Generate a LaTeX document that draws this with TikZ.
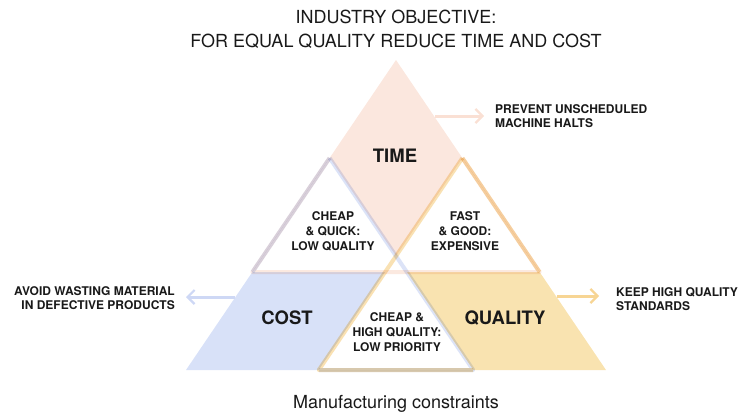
\documentclass[tikz,border=0pt]{standalone}
\usepackage{fontspec}
\setmainfont{TeX Gyre Heros}
\usetikzlibrary{arrows.meta}
\definecolor{timec}{RGB}{251,231,222}
\definecolor{costc}{RGB}{216,225,248}
\definecolor{qualc}{RGB}{249,227,176}
\definecolor{timel}{RGB}{250,224,212}
\definecolor{costl}{RGB}{206,216,245}
\definecolor{quall}{RGB}{247,213,148}
\definecolor{ink}{RGB}{25,25,25}
\tikzset{
  edge/.style={line width=4pt, line join=round, opacity=0.7},
  note/.style={font=\bfseries\fontsize{12}{14}\selectfont, text=ink, inner sep=0pt},
  inner/.style={font=\bfseries\fontsize{12}{15}\selectfont, text=ink, align=center, inner sep=0pt},
  big/.style={font=\bfseries\fontsize{18.5}{20}\selectfont, text=ink, inner sep=0pt},
  plain/.style={font=\fontsize{18}{20}\selectfont, text=ink, inner sep=0pt, anchor=base},
  sidearrow/.style={line width=3pt, -{Straight Barb[length=7pt,width=14pt,line width=2.2pt]}}
}
\begin{document}
\begin{tikzpicture}[x=1pt,y=-1pt]
\useasboundingbox (0,0) rectangle (738,412);
% key points
\coordinate (A)  at (396,60);
\coordinate (TL) at (252.4,272);
\coordinate (TR) at (539.6,272);
\coordinate (CA) at (329.6,158);
\coordinate (QA) at (462.4,158);
\coordinate (BL) at (186,370);
\coordinate (BR) at (606,370);
\coordinate (CB) at (473.2,370);
\coordinate (QB) at (318.8,370);
\coordinate (X1) at (406.8,272);
\coordinate (X2) at (385.2,272);
\coordinate (M)  at (396,256);
% fills
\fill[timec] (A) -- (TL) -- (TR) -- cycle;
\fill[costc] (CA) -- (BL) -- (CB) -- cycle;
\fill[qualc] (QA) -- (QB) -- (BR) -- cycle;
\fill[white] (CA) -- (TL) -- (X1) -- cycle;
\fill[white] (QA) -- (X2) -- (TR) -- cycle;
\fill[white] (M) -- (QB) -- (CB) -- cycle;
% strokes
\begin{scope}[blend mode=multiply]
\draw[edge, timel] (CA) -- (TL) -- (TR) -- (QA);
\draw[edge, costl] (CA) -- (TL);
\draw[edge, costl] (CA) -- (CB) -- (QB);
\draw[edge, quall] (QA) -- (TR);
\draw[edge, quall] (QA) -- (QB) -- (CB);
\end{scope}
% labels
\node[big] (tlabel) at (395,156) {TIME};
\node[big] (clabel) at (287,318) {COST};
\node[big] (qlabel) at (505,318) {QUALITY};
\node[inner] (tc) at (333,231) {CHEAP\\\& QUICK:\\LOW QUALITY};
\node[inner] (tq) at (465,231) {FAST\\\& GOOD:\\EXPENSIVE};
\node[inner] (cq) at (397,332) {CHEAP \&\\HIGH QUALITY:\\LOW PRIORITY};
% titles
\node[plain] (title1) at (396,24) {INDUSTRY OBJECTIVE:};
\node[plain] (title2) at (396,48) {FOR EQUAL QUALITY REDUCE TIME AND COST};
\node[plain] (caption) at (396,408) {Manufacturing constraints};
% side notes
\node[note, anchor=west, align=left] (tnote) at (495,116) {PREVENT UNSCHEDULED\\MACHINE HALTS};
\node[note, anchor=east, align=right] (cnote) at (175,298.5) {AVOID WASTING MATERIAL\\IN DEFECTIVE PRODUCTS};
\node[note, anchor=west, align=left] (qnote) at (616,299) {KEEP HIGH QUALITY\\STANDARDS};
\coordinate (ts) at (435,116);
\coordinate (cs) at (235,297);
\coordinate (qs) at (557,296);
\draw[sidearrow, timel] (ts) -- ([xshift=-11pt]tnote.west |- ts);
\draw[sidearrow, costl] (cs) -- ([xshift=11pt]cnote.east |- cs);
\draw[sidearrow, quall] (qs) -- ([xshift=-17pt]qnote.west |- qs);
\end{tikzpicture}
\end{document}
